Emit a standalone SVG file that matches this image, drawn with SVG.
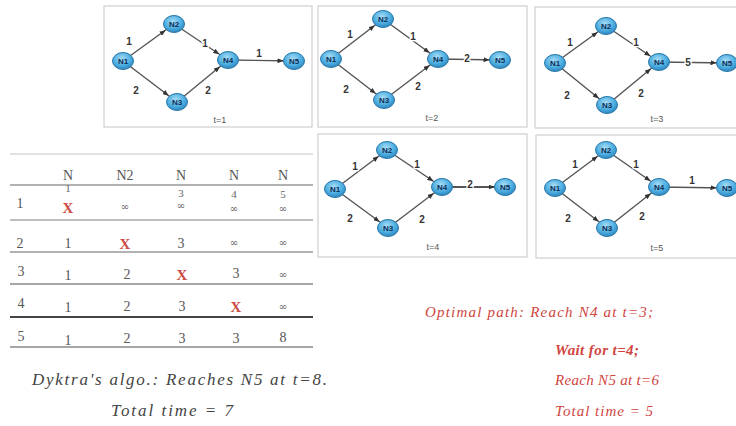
<svg xmlns="http://www.w3.org/2000/svg" width="736" height="426" viewBox="0 0 736 426">
<style>
.panel{fill:#fff;stroke:#cfcfcf;stroke-width:1.2}
.edge{stroke:#555;stroke-width:1.4;fill:none;marker-end:url(#arr)}
.edge.thick{stroke-width:2.2}
.node ellipse{fill:url(#ng);stroke:#2a78a8;stroke-width:1}
.node text{font-family:"Liberation Sans",Arial,sans-serif;font-size:8px;font-weight:bold;fill:#0f2d55;text-anchor:middle}
.elab{font-family:"Liberation Sans",Arial,sans-serif;font-size:10px;font-weight:bold;fill:#333;text-anchor:middle;stroke:#fff;stroke-width:2.5;paint-order:stroke}
.cap{font-family:"Liberation Sans",Arial,sans-serif;font-size:9px;fill:#555;text-anchor:middle}
.tl{stroke:#999;stroke-width:1.5}
.tt{font-family:"Liberation Serif","Times New Roman",serif;font-size:14px;fill:#555;text-anchor:middle}
.sub{font-family:"Liberation Serif","Times New Roman",serif;font-size:11px;fill:#666;text-anchor:middle}
.inf{font-family:"DejaVu Serif",serif;font-size:10px;fill:#666;text-anchor:middle}
.x{font-family:"Liberation Serif","Times New Roman",serif;font-size:15px;font-weight:bold;fill:#cc4a44;text-anchor:middle}
.note{font-family:"Liberation Serif","Times New Roman",serif;font-size:17px;font-style:italic;fill:#444}
.red{font-family:"Liberation Serif","Times New Roman",serif;font-size:15px;font-style:italic;fill:#d0453f}
</style>
<defs>
<radialGradient id="ng" cx="45%" cy="35%" r="65%">
<stop offset="0" stop-color="#a6dcf5"/>
<stop offset="0.6" stop-color="#4fb0e2"/>
<stop offset="1" stop-color="#2c86c0"/>
</radialGradient>
<marker id="arr" viewBox="0 0 6 5" refX="16.5" refY="2.5" markerWidth="6" markerHeight="5" markerUnits="userSpaceOnUse" orient="auto">
<path d="M0,0 L6,2.5 L0,5 z" fill="#333"/>
</marker>
</defs>
<rect width="736" height="426" fill="#fff"/>

<!-- Panel t=1 -->
<g id="panel-t1">
<rect class="panel" x="104" y="6" width="208" height="121"/>
<g id="t1-connectors">
<line class="edge" x1="123" y1="61" x2="174" y2="24"/>
<line class="edge" x1="174" y1="24" x2="228" y2="60"/>
<line class="edge" x1="123" y1="61" x2="177" y2="102"/>
<line class="edge" x1="177" y1="102" x2="228" y2="60"/>
<line class="edge" x1="228" y1="60" x2="294" y2="61"/>
<text class="elab" x="129" y="45">1</text>
<text class="elab" x="205" y="47">1</text>
<text class="elab" x="259" y="57">1</text>
<text class="elab" x="136" y="94">2</text>
<text class="elab" x="208" y="94">2</text>
</g>
<g id="t1-N1" class="node"><ellipse cx="123" cy="61" rx="10.5" ry="8.5"/><text x="123" y="64">N1</text></g>
<g id="t1-N2" class="node"><ellipse cx="174" cy="24" rx="10.5" ry="8.5"/><text x="174" y="27">N2</text></g>
<g id="t1-N3" class="node"><ellipse cx="177" cy="102" rx="10.5" ry="8.5"/><text x="177" y="105">N3</text></g>
<g id="t1-N4" class="node"><ellipse cx="228" cy="60" rx="10.5" ry="8.5"/><text x="228" y="63">N4</text></g>
<g id="t1-N5" class="node"><ellipse cx="294" cy="61" rx="10.5" ry="8.5"/><text x="294" y="64">N5</text></g>
<text class="cap" x="220" y="123">t=1</text>
</g>

<!-- Panel t=2 -->
<g id="panel-t2">
<rect class="panel" x="318" y="6" width="209" height="121"/>
<g id="t2-connectors">
<line class="edge" x1="331" y1="59" x2="383" y2="19"/>
<line class="edge" x1="383" y1="19" x2="438" y2="59"/>
<line class="edge" x1="331" y1="59" x2="384" y2="100"/>
<line class="edge" x1="384" y1="100" x2="438" y2="59"/>
<line class="edge" x1="438" y1="59" x2="500" y2="60"/>
<text class="elab" x="350" y="38">1</text>
<text class="elab" x="413" y="40">1</text>
<text class="elab" x="467" y="62">2</text>
<text class="elab" x="346" y="93">2</text>
<text class="elab" x="418" y="90">2</text>
</g>
<g id="t2-N1" class="node"><ellipse cx="331" cy="59" rx="10.5" ry="8.5"/><text x="331" y="62">N1</text></g>
<g id="t2-N2" class="node"><ellipse cx="383" cy="19" rx="10.5" ry="8.5"/><text x="383" y="22">N2</text></g>
<g id="t2-N3" class="node"><ellipse cx="384" cy="100" rx="10.5" ry="8.5"/><text x="384" y="103">N3</text></g>
<g id="t2-N4" class="node"><ellipse cx="438" cy="59" rx="10.5" ry="8.5"/><text x="438" y="62">N4</text></g>
<g id="t2-N5" class="node"><ellipse cx="500" cy="60" rx="10.5" ry="8.5"/><text x="500" y="63">N5</text></g>
<text class="cap" x="432" y="121">t=2</text>
</g>

<!-- Panel t=3 -->
<g id="panel-t3">
<rect class="panel" x="535" y="7" width="205" height="121"/>
<g id="t3-connectors">
<line class="edge" x1="555" y1="63" x2="606" y2="26"/>
<line class="edge" x1="606" y1="26" x2="659" y2="62"/>
<line class="edge" x1="555" y1="63" x2="607" y2="105"/>
<line class="edge" x1="607" y1="105" x2="659" y2="62"/>
<line class="edge" x1="659" y1="62" x2="727" y2="63"/>
<text class="elab" x="570" y="46">1</text>
<text class="elab" x="636" y="46">1</text>
<text class="elab" x="688" y="66">5</text>
<text class="elab" x="567" y="99">2</text>
<text class="elab" x="641" y="97">2</text>
</g>
<g id="t3-N1" class="node"><ellipse cx="555" cy="63" rx="10.5" ry="8.5"/><text x="555" y="66">N1</text></g>
<g id="t3-N2" class="node"><ellipse cx="606" cy="26" rx="10.5" ry="8.5"/><text x="606" y="29">N2</text></g>
<g id="t3-N3" class="node"><ellipse cx="607" cy="105" rx="10.5" ry="8.5"/><text x="607" y="108">N3</text></g>
<g id="t3-N4" class="node"><ellipse cx="659" cy="62" rx="10.5" ry="8.5"/><text x="659" y="65">N4</text></g>
<g id="t3-N5" class="node"><ellipse cx="727" cy="63" rx="10.5" ry="8.5"/><text x="727" y="66">N5</text></g>
<text class="cap" x="657" y="122">t=3</text>
</g>

<!-- Panel t=4 -->
<g id="panel-t4">
<rect class="panel" x="318" y="134" width="209" height="123"/>
<g id="t4-connectors">
<line class="edge" x1="335" y1="189" x2="387" y2="150"/>
<line class="edge" x1="387" y1="150" x2="442" y2="187"/>
<line class="edge" x1="335" y1="189" x2="388" y2="228"/>
<line class="edge" x1="388" y1="228" x2="442" y2="187"/>
<line class="edge thick" x1="442" y1="187" x2="505" y2="187"/>
<text class="elab" x="355" y="170">1</text>
<text class="elab" x="417" y="168">1</text>
<text class="elab" x="470" y="188">2</text>
<text class="elab" x="350" y="222">2</text>
<text class="elab" x="422" y="223">2</text>
</g>
<g id="t4-N1" class="node"><ellipse cx="335" cy="189" rx="10.5" ry="8.5"/><text x="335" y="192">N1</text></g>
<g id="t4-N2" class="node"><ellipse cx="387" cy="150" rx="10.5" ry="8.5"/><text x="387" y="153">N2</text></g>
<g id="t4-N3" class="node"><ellipse cx="388" cy="228" rx="10.5" ry="8.5"/><text x="388" y="231">N3</text></g>
<g id="t4-N4" class="node"><ellipse cx="442" cy="187" rx="10.5" ry="8.5"/><text x="442" y="190">N4</text></g>
<g id="t4-N5" class="node"><ellipse cx="505" cy="187" rx="10.5" ry="8.5"/><text x="505" y="190">N5</text></g>
<text class="cap" x="433" y="250">t=4</text>
</g>

<!-- Panel t=5 -->
<g id="panel-t5">
<rect class="panel" x="536" y="135" width="205" height="123"/>
<g id="t5-connectors">
<line class="edge" x1="555" y1="188" x2="606" y2="150"/>
<line class="edge" x1="606" y1="150" x2="659" y2="187"/>
<line class="edge" x1="555" y1="188" x2="607" y2="228"/>
<line class="edge" x1="607" y1="228" x2="659" y2="187"/>
<line class="edge" x1="659" y1="187" x2="727" y2="188"/>
<text class="elab" x="575" y="168">1</text>
<text class="elab" x="636" y="168">1</text>
<text class="elab" x="692" y="184">1</text>
<text class="elab" x="568" y="222">2</text>
<text class="elab" x="642" y="220">2</text>
</g>
<g id="t5-N1" class="node"><ellipse cx="555" cy="188" rx="10.5" ry="8.5"/><text x="555" y="191">N1</text></g>
<g id="t5-N2" class="node"><ellipse cx="606" cy="150" rx="10.5" ry="8.5"/><text x="606" y="153">N2</text></g>
<g id="t5-N3" class="node"><ellipse cx="607" cy="228" rx="10.5" ry="8.5"/><text x="607" y="231">N3</text></g>
<g id="t5-N4" class="node"><ellipse cx="659" cy="187" rx="10.5" ry="8.5"/><text x="659" y="190">N4</text></g>
<g id="t5-N5" class="node"><ellipse cx="727" cy="188" rx="10.5" ry="8.5"/><text x="727" y="191">N5</text></g>
<text class="cap" x="657" y="251">t=5</text>
</g>

<!-- Table -->
<g id="table">
<line class="tl" x1="10" y1="154" x2="313" y2="154" style="stroke:#c4c4c4;stroke-width:1.2"/>
<line class="tl" x1="10" y1="185" x2="313" y2="185"/>
<line class="tl" x1="10" y1="220" x2="313" y2="220" style="stroke:#aaa"/>
<line class="tl" x1="10" y1="252" x2="313" y2="252"/>
<line class="tl" x1="10" y1="284" x2="313" y2="284" style="stroke:#888"/>
<line class="tl" x1="10" y1="317" x2="313" y2="317" style="stroke:#444;stroke-width:2"/>
<line class="tl" x1="10" y1="347" x2="313" y2="347" style="stroke:#888"/>

<text class="tt" x="68" y="180">N</text>
<text class="tt" x="125" y="180">N2</text>
<text class="tt" x="181" y="180">N</text>
<text class="tt" x="234" y="180">N</text>
<text class="tt" x="283" y="180">N</text>
<text class="sub" x="68" y="192">1</text>
<text class="sub" x="181" y="197">3</text>
<text class="sub" x="234" y="198">4</text>
<text class="sub" x="283" y="198">5</text>

<text class="tt" x="20" y="208">1</text>
<text class="x" x="68" y="213">X</text>
<text class="inf" x="125" y="210">∞</text>
<text class="inf" x="181" y="209">∞</text>
<text class="inf" x="234" y="212">∞</text>
<text class="inf" x="283" y="212">∞</text>

<text class="tt" x="20" y="248">2</text>
<text class="tt" x="68" y="248">1</text>
<text class="x" x="125" y="249">X</text>
<text class="tt" x="181" y="248">3</text>
<text class="inf" x="234" y="246">∞</text>
<text class="inf" x="283" y="246">∞</text>

<text class="tt" x="21" y="276">3</text>
<text class="tt" x="68" y="280">1</text>
<text class="tt" x="127" y="279">2</text>
<text class="x" x="182" y="280">X</text>
<text class="tt" x="236" y="278">3</text>
<text class="inf" x="283" y="278">∞</text>

<text class="tt" x="21" y="308">4</text>
<text class="tt" x="68" y="312">1</text>
<text class="tt" x="127" y="311">2</text>
<text class="tt" x="182" y="311">3</text>
<text class="x" x="236" y="312">X</text>
<text class="inf" x="283" y="310">∞</text>

<text class="tt" x="21" y="341">5</text>
<text class="tt" x="68" y="345">1</text>
<text class="tt" x="127" y="343">2</text>
<text class="tt" x="182" y="343">3</text>
<text class="tt" x="236" y="343">3</text>
<text class="tt" x="283" y="342">8</text>
</g>

<!-- Notes -->
<text class="note" x="32" y="385" textLength="295" lengthAdjust="spacing">Dyktra's algo.: Reaches N5 at t=8.</text>
<text class="note" x="111" y="416" textLength="122" lengthAdjust="spacing">Total time = 7</text>

<text class="red" x="425" y="317" textLength="228" lengthAdjust="spacing">Optimal path: Reach N4 at t=3;</text>
<text class="red" x="555" y="355" font-weight="bold" fill="#c2302a" textLength="84" lengthAdjust="spacing">Wait for t=4;</text>
<text class="red" x="555" y="385" textLength="104" lengthAdjust="spacing">Reach N5 at t=6</text>
<text class="red" x="555" y="416" textLength="98" lengthAdjust="spacing">Total time = 5</text>
</svg>
